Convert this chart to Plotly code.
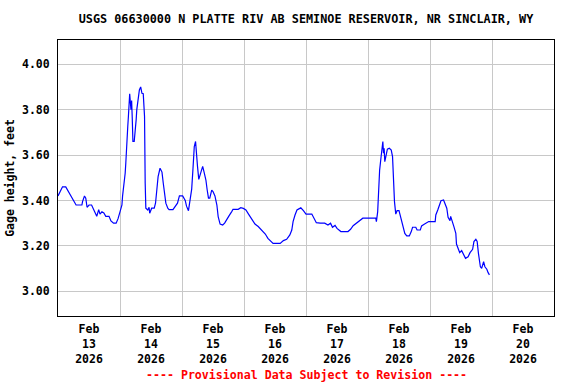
import plotly.graph_objects as go

times = [
    "2026-02-13 00:00", "2026-02-13 00:45", "2026-02-13 01:45", "2026-02-13 03:00", "2026-02-13 04:00",
    "2026-02-13 04:45", "2026-02-13 05:45", "2026-02-13 07:00", "2026-02-13 09:15", "2026-02-13 09:30",
    "2026-02-13 10:15", "2026-02-13 10:45", "2026-02-13 11:15", "2026-02-13 12:00", "2026-02-13 13:00",
    "2026-02-13 13:45", "2026-02-13 14:15", "2026-02-13 15:00", "2026-02-13 15:45", "2026-02-13 16:15",
    "2026-02-13 17:00", "2026-02-13 17:45", "2026-02-13 18:30", "2026-02-13 19:45", "2026-02-13 20:30",
    "2026-02-13 21:30", "2026-02-13 22:30", "2026-02-13 23:15",
    "2026-02-14 00:00", "2026-02-14 00:45", "2026-02-14 01:00", "2026-02-14 01:30", "2026-02-14 02:00",
    "2026-02-14 02:15", "2026-02-14 02:30", "2026-02-14 03:00", "2026-02-14 03:15", "2026-02-14 03:30",
    "2026-02-14 03:45", "2026-02-14 04:15", "2026-02-14 04:30", "2026-02-14 04:45", "2026-02-14 05:00",
    "2026-02-14 05:30", "2026-02-14 05:45", "2026-02-14 06:15", "2026-02-14 06:30", "2026-02-14 07:00",
    "2026-02-14 07:30", "2026-02-14 08:00", "2026-02-14 08:30", "2026-02-14 09:00", "2026-02-14 09:30",
    "2026-02-14 09:45", "2026-02-14 10:00", "2026-02-14 10:45", "2026-02-14 11:15", "2026-02-14 11:30",
    "2026-02-14 12:15", "2026-02-14 13:15", "2026-02-14 13:45", "2026-02-14 14:15", "2026-02-14 14:45",
    "2026-02-14 15:30", "2026-02-14 16:15", "2026-02-14 16:45", "2026-02-14 17:15", "2026-02-14 17:45",
    "2026-02-14 18:30", "2026-02-14 19:00", "2026-02-14 20:30", "2026-02-14 21:15", "2026-02-14 22:15",
    "2026-02-14 23:00",
    "2026-02-15 00:15", "2026-02-15 01:15", "2026-02-15 01:45", "2026-02-15 02:30", "2026-02-15 03:00",
    "2026-02-15 03:45", "2026-02-15 04:15", "2026-02-15 04:45", "2026-02-15 05:15", "2026-02-15 05:30",
    "2026-02-15 06:00", "2026-02-15 06:30", "2026-02-15 07:00", "2026-02-15 07:30", "2026-02-15 08:00",
    "2026-02-15 08:30", "2026-02-15 09:15", "2026-02-15 09:45", "2026-02-15 10:15", "2026-02-15 10:45",
    "2026-02-15 11:30", "2026-02-15 12:00", "2026-02-15 12:45", "2026-02-15 13:30", "2026-02-15 14:00",
    "2026-02-15 14:45", "2026-02-15 15:45", "2026-02-15 16:30", "2026-02-15 17:15", "2026-02-15 18:15",
    "2026-02-15 19:15", "2026-02-15 19:45", "2026-02-15 21:45", "2026-02-15 22:45", "2026-02-15 23:45",
    "2026-02-16 00:45", "2026-02-16 01:45", "2026-02-16 03:00", "2026-02-16 04:15", "2026-02-16 05:30",
    "2026-02-16 06:45", "2026-02-16 08:15", "2026-02-16 09:15", "2026-02-16 10:30", "2026-02-16 11:15",
    "2026-02-16 14:00", "2026-02-16 15:15", "2026-02-16 16:30", "2026-02-16 17:45", "2026-02-16 18:30",
    "2026-02-16 19:00", "2026-02-16 19:45", "2026-02-16 20:30", "2026-02-16 21:15", "2026-02-16 22:00",
    "2026-02-16 23:00",
    "2026-02-17 00:00", "2026-02-17 02:15", "2026-02-17 03:00", "2026-02-17 04:00", "2026-02-17 05:30",
    "2026-02-17 07:15", "2026-02-17 08:30", "2026-02-17 09:30", "2026-02-17 10:15", "2026-02-17 11:15",
    "2026-02-17 12:00", "2026-02-17 13:30", "2026-02-17 16:15", "2026-02-17 17:15", "2026-02-17 18:15",
    "2026-02-17 19:30", "2026-02-17 20:45", "2026-02-17 22:00",
    "2026-02-18 03:00", "2026-02-18 03:15", "2026-02-18 03:45", "2026-02-18 04:00", "2026-02-18 04:30",
    "2026-02-18 05:00", "2026-02-18 05:15", "2026-02-18 05:45", "2026-02-18 06:00", "2026-02-18 06:15",
    "2026-02-18 06:30", "2026-02-18 07:00", "2026-02-18 07:30", "2026-02-18 08:15", "2026-02-18 09:00",
    "2026-02-18 09:30", "2026-02-18 09:45", "2026-02-18 10:15", "2026-02-18 10:45", "2026-02-18 11:15",
    "2026-02-18 12:00", "2026-02-18 13:00", "2026-02-18 13:45", "2026-02-18 14:15", "2026-02-18 15:00",
    "2026-02-18 16:00", "2026-02-18 16:45", "2026-02-18 17:15", "2026-02-18 18:30", "2026-02-18 19:00",
    "2026-02-18 20:15", "2026-02-18 20:45", "2026-02-18 21:45", "2026-02-18 22:30", "2026-02-18 23:30",
    "2026-02-19 02:00", "2026-02-19 02:15", "2026-02-19 03:00", "2026-02-19 03:30", "2026-02-19 04:15",
    "2026-02-19 05:15", "2026-02-19 05:45", "2026-02-19 06:30", "2026-02-19 07:00", "2026-02-19 07:45",
    "2026-02-19 08:00", "2026-02-19 08:30", "2026-02-19 09:15", "2026-02-19 10:00", "2026-02-19 10:15",
    "2026-02-19 11:00", "2026-02-19 11:30", "2026-02-19 12:15", "2026-02-19 13:00", "2026-02-19 13:45",
    "2026-02-19 14:45", "2026-02-19 15:30", "2026-02-19 16:30", "2026-02-19 17:00", "2026-02-19 17:45",
    "2026-02-19 18:15", "2026-02-19 18:45", "2026-02-19 19:30", "2026-02-19 20:00", "2026-02-19 20:45",
    "2026-02-19 21:15", "2026-02-19 22:00", "2026-02-19 22:30", "2026-02-19 23:00",
]

gage_height = [
    3.42, 3.44, 3.46, 3.46, 3.44,
    3.42, 3.40, 3.38, 3.38, 3.395,
    3.42, 3.41, 3.37, 3.38, 3.38,
    3.36, 3.35, 3.33, 3.36, 3.34,
    3.35, 3.345, 3.33, 3.33, 3.31,
    3.30, 3.30, 3.32,
    3.35, 3.38, 3.42, 3.46, 3.52,
    3.565, 3.645, 3.725, 3.77, 3.81,
    3.87, 3.80, 3.84, 3.76, 3.66,
    3.66, 3.71, 3.755, 3.80, 3.85,
    3.887, 3.90, 3.872, 3.87, 3.77,
    3.476, 3.366, 3.358, 3.37, 3.344,
    3.366, 3.366, 3.388, 3.446, 3.505,
    3.542, 3.525, 3.476, 3.432, 3.388,
    3.366, 3.36, 3.36, 3.37, 3.388,
    3.42,
    3.42, 3.40, 3.375, 3.355, 3.40,
    3.45, 3.54, 3.637, 3.66, 3.615,
    3.55, 3.493, 3.512, 3.534, 3.55,
    3.527, 3.49, 3.446, 3.41, 3.41,
    3.446, 3.439, 3.42, 3.38, 3.329,
    3.296, 3.292, 3.30, 3.317, 3.333,
    3.351, 3.361, 3.361, 3.368, 3.365,
    3.358, 3.34, 3.318, 3.296, 3.285,
    3.27, 3.252, 3.233, 3.219, 3.211,
    3.211, 3.223, 3.229, 3.248, 3.27,
    3.307, 3.336, 3.358, 3.363, 3.368,
    3.355,
    3.34, 3.34, 3.324, 3.302, 3.30,
    3.30, 3.292, 3.30, 3.282, 3.29,
    3.277, 3.263, 3.263, 3.273, 3.289,
    3.30, 3.311, 3.322,
    3.322, 3.307, 3.351, 3.432, 3.534,
    3.586, 3.622, 3.66, 3.608, 3.63,
    3.571, 3.593, 3.626, 3.63, 3.622,
    3.593, 3.505, 3.395, 3.34, 3.355,
    3.355, 3.314, 3.277, 3.255, 3.244,
    3.244, 3.263, 3.282, 3.282, 3.27,
    3.27, 3.288, 3.295, 3.30, 3.307,
    3.307, 3.336, 3.358, 3.376, 3.399,
    3.402, 3.385, 3.366, 3.326, 3.311,
    3.33, 3.307, 3.285, 3.255, 3.208,
    3.185, 3.17, 3.179, 3.16, 3.145,
    3.152, 3.17, 3.185, 3.219, 3.229,
    3.219, 3.167, 3.108, 3.101, 3.13,
    3.108, 3.097, 3.082, 3.072,
]

tick_positions = ["2026-02-13 12:00", "2026-02-14 12:00", "2026-02-15 12:00", "2026-02-16 12:00",
                  "2026-02-17 12:00", "2026-02-18 12:00", "2026-02-19 12:00", "2026-02-20 12:00"]
tick_labels = ["Feb<br>13<br>2026", "Feb<br>14<br>2026", "Feb<br>15<br>2026", "Feb<br>16<br>2026",
               "Feb<br>17<br>2026", "Feb<br>18<br>2026", "Feb<br>19<br>2026", "Feb<br>20<br>2026"]
day_lines = ["2026-02-14", "2026-02-15", "2026-02-16", "2026-02-17",
             "2026-02-18", "2026-02-19", "2026-02-20"]
y_ticks = [3.00, 3.20, 3.40, 3.60, 3.80, 4.00]

FONT = "DejaVu Sans Mono"
GRID = "#c8c8c8"

fig = go.Figure()
fig.add_trace(go.Scatter(x=times, y=gage_height, mode="lines",
                         line=dict(color="#0000ff", width=1.2), showlegend=False))

fig.update_layout(
    width=576, height=384,
    margin=dict(l=58, r=22, t=40, b=68, autoexpand=False),
    paper_bgcolor="white", plot_bgcolor="white",
    font=dict(family=FONT, size=11.5, color="black"),
    title=dict(text="<b>USGS 06630000 N PLATTE RIV AB SEMINOE RESERVOIR, NR SINCLAIR, WY</b>",
               x=0.5, xref="paper", y=1 - 19 / 384, yref="container", yanchor="middle",
               font=dict(family=FONT, size=11.8, color="black")),
    xaxis=dict(
        type="date", range=["2026-02-13 00:00", "2026-02-21 00:00"], automargin=False,
        tickmode="array", tickvals=tick_positions,
        ticktext=["<b>" + t.replace("<br>", "</b><br><b>") + "</b>" for t in tick_labels],
        showgrid=False, ticks="", zeroline=False, ticklabelstandoff=2,
        showline=True, linecolor="black", linewidth=1, mirror=True,
        tickfont=dict(family=FONT, size=11.5, color="black"),
        minor=dict(tickmode="array", tickvals=day_lines, showgrid=True,
                   gridcolor=GRID, gridwidth=1, ticks=""),
    ),
    yaxis=dict(
        range=[2.891, 4.107], tickmode="array", tickvals=y_ticks, automargin=False,
        ticktext=["<b>%.2f</b>" % v for v in y_ticks],
        showgrid=True, gridcolor=GRID, gridwidth=1, zeroline=False,
        showline=True, linecolor="black", linewidth=1, mirror=True,
        ticks="", ticklabelstandoff=5,
        tickfont=dict(family=FONT, size=11.5, color="black"),
        title=dict(text="<b>Gage height, feet</b>", standoff=4,
                   font=dict(family=FONT, size=11.5, color="black")),
    ),
)

fig.add_annotation(text="<b>---- Provisional Data Subject to Revision ----</b>",
                   xref="paper", yref="paper", x=0.5, y=(316 - 375) / 276,
                   xanchor="center", yanchor="middle", showarrow=False,
                   font=dict(family=FONT, size=11.6, color="red"))

fig.write_html("out.html", config={"displayModeBar": False},
               post_script="document.body.style.margin='0';")
